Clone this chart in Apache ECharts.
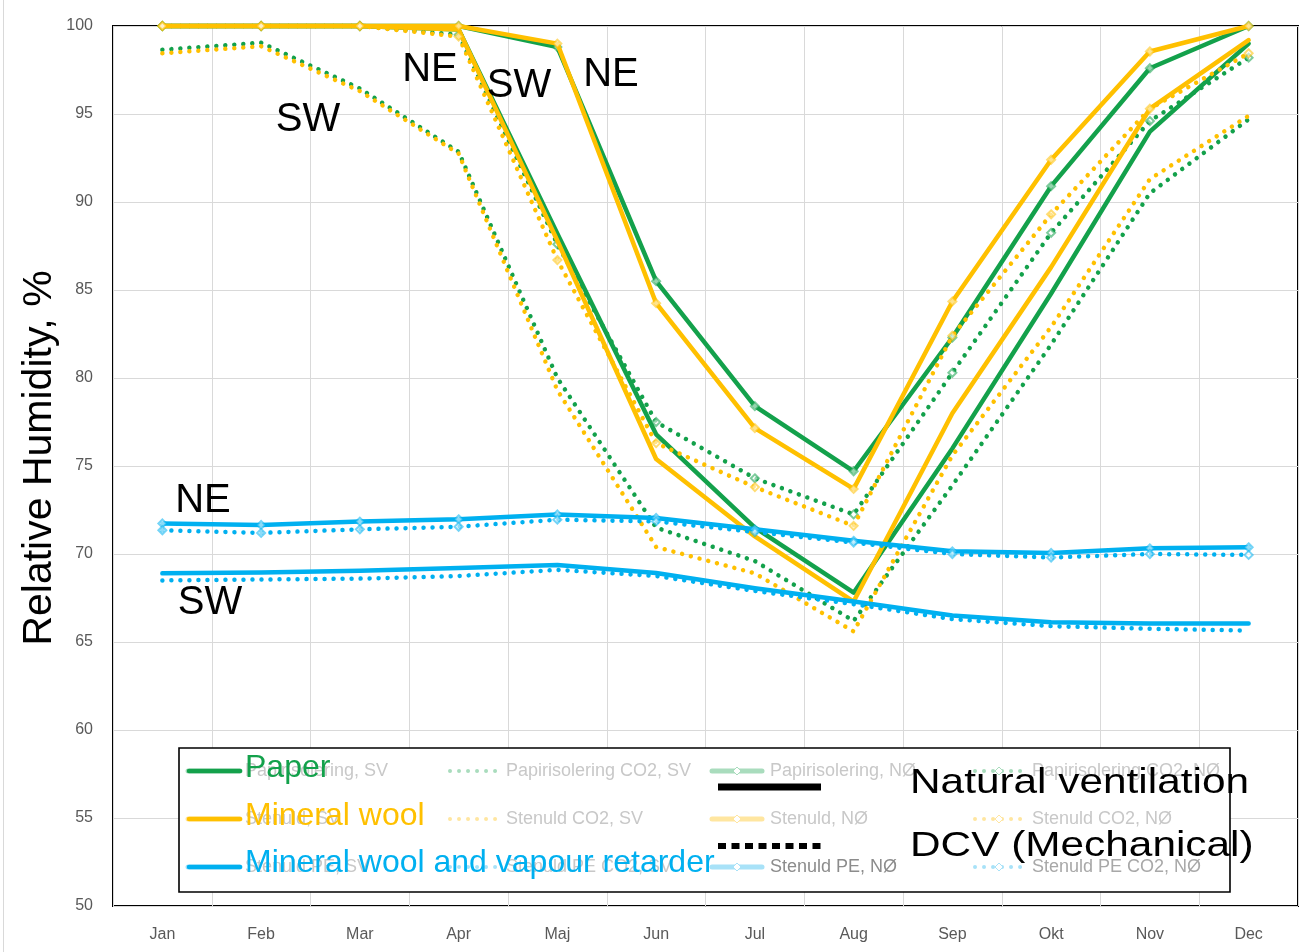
<!DOCTYPE html>
<html><head><meta charset="utf-8">
<script src="https://cdn.jsdelivr.net/npm/echarts@6/dist/echarts.min.js"></script>
<style>html,body{margin:0;padding:0;background:#fff}#c{width:1306px;height:952px}</style>
</head><body><div id="c"></div>
<script>
// ---- data ----
const months = ['Jan','Feb','Mar','Apr','Maj','Jun','Jul','Aug','Sep','Okt','Nov','Dec'];
const paperSV    = [100, 100, 100, 99.8, 88.2, 76.8, 71.5, 67.8, 76.0, 84.8, 94.0, 99.0];
const paperCO2SV = [98.65, 99.05, 96.45, 92.85, 80.0, 71.5, 69.6, 66.2, 73.9, 81.9, 90.5, 94.7];
const paperNE    = [100, 100, 100, 100, 98.8, 85.5, 78.4, 74.7, 82.3, 90.9, 97.6, 100];
const paperCO2NE = [100, 100, 100, 99.5, 87.6, 77.5, 74.3, 72.25, 80.3, 88.25, 94.6, 98.2];
const woolSV     = [100, 100, 100, 99.8, 87.8, 75.4, 71.0, 67.3, 78.0, 86.3, 95.3, 99.2];
const woolCO2SV  = [98.45, 98.85, 96.3, 92.75, 79.3, 70.4, 68.9, 65.6, 75.6, 82.9, 91.3, 94.9];
const woolNE     = [100, 100, 100, 100, 99.0, 84.25, 77.15, 73.7, 84.35, 92.4, 98.55, 100];
const woolCO2NE  = [100, 100, 100, 99.4, 86.7, 76.3, 73.8, 71.6, 82.4, 89.3, 95.3, 98.45];
const peSV       = [68.9, 68.95, 69.05, 69.2, 69.38, 68.92, 68.05, 67.3, 66.5, 66.12, 66.05, 66.05];
const peCO2SV    = [68.5, 68.55, 68.6, 68.75, 69.1, 68.75, 67.9, 67.15, 66.3, 65.9, 65.75, 65.65];
const peNE       = [71.74, 71.65, 71.84, 71.97, 72.25, 72.05, 71.4, 70.75, 70.15, 70.06, 70.32, 70.38];
const peCO2NE    = [71.35, 71.2, 71.4, 71.55, 71.95, 71.85, 71.25, 70.65, 70.0, 69.8, 70.0, 69.95];
const yMin = 50, yMax = 100, yStep = 5;
const seriesNames = [
  ['Papirisolering, SV','Papirisolering CO2, SV','Papirisolering, NØ','Papirisolering CO2, NØ'],
  ['Stenuld, SV','Stenuld CO2, SV','Stenuld, NØ','Stenuld CO2, NØ'],
  ['Stenuld PE, SV','Stenuld PE CO2, SV','Stenuld PE, NØ','Stenuld PE CO2, NØ']
];
const materialLabels = ['Paper','Mineral wool','Mineral wool and vapour retarder'];
const ventLabels = ['Natural ventilation','DCV (Mechanical)'];

// ---- styles ----
const GREEN = '#13a14b', YELLOW = '#ffc000', BLUE = '#00b0f0';
const PALE = ['#a9dcbd', '#ffe6a0', '#a8e2f8'];
const colors = [GREEN, YELLOW, BLUE];
const dataSets = [
  [paperSV, paperCO2SV, paperNE, paperCO2NE],
  [woolSV, woolCO2SV, woolNE, woolCO2NE],
  [peSV, peCO2SV, peNE, peCO2NE]
];
const DOT = [0.01, 9];
const series = [];
dataSets.forEach((set, mi) => {
  set.forEach((d, k) => {
    const dotted = (k % 2) === 1;
    const marker = k >= 2;
    series.push({
      type: 'line', name: seriesNames[mi][k], data: d, clip: false,
      symbol: marker ? 'emptyDiamond' : 'none', symbolSize: 8, showSymbol: marker,
      itemStyle: { color: colors[mi], borderWidth: 1, opacity: 0.55 },
      lineStyle: dotted ? { color: colors[mi], width: 4.5, type: DOT, cap: 'round' }
                        : { color: colors[mi], width: 4.5, cap: 'round', join: 'round' },
      emphasis: { disabled: true }, animation: false, z: 2 + mi
    });
  });
});

// ---- graphics ----
const g = [];
const FF = '"Liberation Sans", Arial, sans-serif';
function txt(x, y, text, size, fill, opts) {
  return Object.assign({ type: 'text', x: x, y: y, z: 100,
    style: { text: text, x: 0, y: 0, font: size + 'px ' + FF, fontSize: size, fontFamily: FF, fill: fill,
      align: (opts && opts.align) || 'left', textAlign: (opts && opts.align) || 'left',
      verticalAlign: 'middle', textVerticalAlign: 'middle' } }, opts && opts.el);
}
// outer chart border (left)
g.push({ type: 'line', z: 1, shape: { x1: 3.5, y1: 0, x2: 3.5, y2: 952 }, style: { stroke: '#d9d9d9', lineWidth: 1 } });
// legend box
g.push({ type: 'rect', z: 90, shape: { x: 179, y: 748, width: 1051, height: 144 }, style: { fill: '#fff', stroke: '#000', lineWidth: 1.6 } });
const colSym = [188, 450, 712, 975], colTxt = [245, 506, 770, 1032], rowY = [771, 819, 867];
const symW = [52, 50, 50, 48];
seriesNames.forEach((row, r) => {
  row.forEach((name, c) => {
    const dotted = c % 2 === 1;
    g.push({ type: 'line', z: 95, shape: { x1: colSym[c], y1: rowY[r], x2: colSym[c] + symW[c], y2: rowY[r] },
      style: { stroke: PALE[r], lineWidth: dotted ? 4 : 5, lineDash: dotted ? DOT : null, lineCap: 'round' } });
    if (c >= 2) {
      g.push({ type: 'polygon', z: 96, shape: { points: [[colSym[c] + symW[c] / 2, rowY[r] - 4], [colSym[c] + symW[c] / 2 + 4, rowY[r]], [colSym[c] + symW[c] / 2, rowY[r] + 4], [colSym[c] + symW[c] / 2 - 4, rowY[r]]] },
        style: { fill: '#fff', stroke: PALE[r], lineWidth: 1 } });
    }
    const fc = (r === 2 && c === 2) ? '#8c8c8c' : (r === 2 && c === 3) ? '#a8a8a8' : '#c8c8c8';
    g.push(txt(colTxt[c], rowY[r], name, 18, fc));
  });
});
// material overlay
materialLabels.forEach((t, i) => {
  g.push({ type: 'line', z: 110, shape: { x1: 189, y1: rowY[i], x2: 240, y2: rowY[i] }, style: { stroke: colors[i], lineWidth: 4.5, lineCap: 'round' } });
  const t1 = txt(245, [768, 816, 863][i], t, 32, colors[i]); t1.z = 111; g.push(t1);
});
// ventilation overlay
g.push({ type: 'line', z: 110, shape: { x1: 718, y1: 787, x2: 821, y2: 787 }, style: { stroke: '#000', lineWidth: 7 } });
g.push({ type: 'line', z: 110, shape: { x1: 718, y1: 846, x2: 821, y2: 846 }, style: { stroke: '#000', lineWidth: 6, lineDash: [8, 5.5] } });
g.push(txt(910, 783, ventLabels[0], 35, '#000', { el: { scaleX: 1.21 } }));
g.push(txt(910, 846, ventLabels[1], 35, '#000', { el: { scaleX: 1.21 } }));
// annotations
[['NE', 430, 70], ['SW', 519, 86], ['NE', 611, 75], ['SW', 308, 120], ['NE', 203, 501], ['SW', 210, 603]].forEach(a => {
  g.push(txt(a[1], a[2], a[0], 40, '#000', { align: 'center' }));
});
// y title
g.push(txt(40, 458, 'Relative Humidity, %', 41, '#000', { align: 'center', el: { rotation: Math.PI / 2 } }));

const chart = echarts.init(document.getElementById('c'), null, { renderer: 'canvas' });
chart.setOption({
  animation: false,
  backgroundColor: '#fff',
  grid: { left: 113, top: 26, width: 1185, height: 880, show: true, borderColor: '#000', borderWidth: 2, backgroundColor: '#fff', containLabel: false },
  xAxis: {
    type: 'category', data: months, boundaryGap: true,
    axisLine: { show: false }, axisTick: { show: false },
    splitLine: { show: true, interval: 0, lineStyle: { color: '#d9d9d9', width: 1 } },
    axisLabel: { color: '#595959', fontSize: 16, fontFamily: '"Liberation Sans Narrow", "Liberation Sans", Arial', margin: 21, interval: 0 }
  },
  yAxis: {
    type: 'value', min: yMin, max: yMax, interval: yStep,
    axisLine: { show: false }, axisTick: { show: false },
    splitLine: { lineStyle: { color: '#d9d9d9', width: 1 } },
    axisLabel: { color: '#595959', fontSize: 16, fontFamily: '"Liberation Sans Narrow", "Liberation Sans", Arial', margin: 20 }
  },
  series: series,
  graphic: { elements: g }
});
</script></body></html>
